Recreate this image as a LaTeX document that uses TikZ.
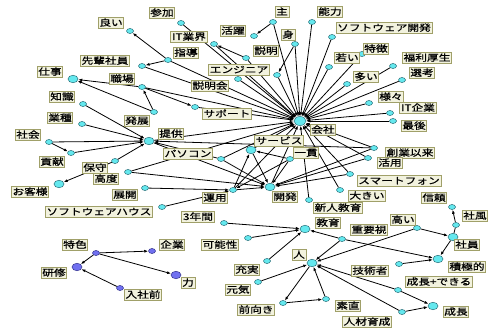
\documentclass[tikz,border=0pt]{standalone}
\usepackage{fontspec}
\newfontfamily\jp[FakeStretch=1.3,FakeBold=0.8]{Noto Sans CJK JP}
\usetikzlibrary{arrows.meta,shapes.geometric}
\pgfdeclarelayer{bg}
\pgfsetlayers{bg,main}
\definecolor{labfill}{RGB}{242,242,222}
\definecolor{labborder}{RGB}{160,160,105}
\definecolor{cyfill}{RGB}{100,232,238}
\definecolor{cyborder}{RGB}{40,110,120}
\definecolor{pufill}{RGB}{112,112,240}
\definecolor{puborder}{RGB}{50,50,140}
\begin{document}
\begin{tikzpicture}[x=1pt,y=-1pt,
  lab/.style={draw=labborder, fill=labfill, line width=0.9pt, inner xsep=1.2pt, inner ysep=0.5pt,
    text height=7.6pt, text depth=1.6pt, font=\jp\fontsize{9}{9}\selectfont},
  cn/.style={ellipse, draw=cyborder, fill=cyfill, line width=0.5pt, minimum width=7pt, minimum height=5pt, inner sep=0pt},
  cb/.style={cn, minimum width=10pt, minimum height=7.5pt},
  ck/.style={cn, minimum width=12pt, minimum height=9pt},
  pn/.style={cn, draw=puborder, fill=pufill},
  pb/.style={cb, draw=puborder, fill=pufill},
  e/.style={-{Latex[length=4pt,width=3pt]}, line width=0.8pt},
  ]
\useasboundingbox (0,0) rectangle (489,329);
% circles
\node[cn] (yoi) at (130,31) {};
\node[cn] (sanka) at (181,23) {};
\node[cn] (senpai) at (142,66) {};
\node[cb] (shigoto) at (73,79) {};
\node[cn] (shokuba) at (142,87) {};
\node[cn] (chishiki) at (83,104) {};
\node[cn] (itgyokai) at (214,44) {};
\node[cn] (shido) at (168,60) {};
\node[cn] (katsuyaku) at (254,36) {};
\node[cn] (omo) at (273,22) {};
\node[cn] (noryoku) at (312,22) {};
\node[cn] (mi) at (295,44) {};
\node[cn] (setsumei) at (246,58) {};
\node[cn] (engineer) at (277,75) {};
\node[cn] (setsumeikai) at (238,79) {};
\node[cn] (support) at (195,107) {};
\node[ck] (kaisha) at (300,121) {};
\node[cn] (softdev) at (332,37) {};
\node[cn] (tokucho) at (362,54) {};
\node[cn] (wakai) at (329,67) {};
\node[cn] (fukuri) at (393,66) {};
\node[cn] (ooi) at (347,84) {};
\node[cn] (senko) at (402,80) {};
\node[cn] (samazama) at (369,103) {};
\node[cn] (itkigyo) at (390,113) {};
\node[cn] (saigo) at (393,121) {};
\node[cn] (sogyo) at (374,148) {};
\node[cn] (katsuyo) at (368,158) {};
\node[cn] (smartphone) at (350,174) {};
\node[cn] (ookii) at (340,190) {};
\node[cn] (shinrai) at (452,207) {};
\node[cn] (shafu) at (456,225) {};
\node[cb] (shain) at (453,237) {};
\node[cn] (takai) at (417,228) {};
\node[cn] (juyoshi) at (342,239) {};
\node[cb] (sekkyoku) at (438,259) {};
\node[cn] (gijutsu) at (399,264) {};
\node[cn] (dekiru) at (398,290) {};
\node[cb] (seicho) at (433,306) {};
\node[cn] (jinzai) at (402,312) {};
\node[cn] (sunao) at (326,299) {};
\node[cb] (hito) at (312,263) {};
\node[cb] (kyoiku) at (305,229) {};
\node[cn] (shinjin) at (309,200) {};
\node[cb] (kaihatsu) at (270,187) {};
\node[cn] (ikkan) at (290,159) {};
\node[cb] (service) at (251,150) {};
\node[cn] (pasokon) at (221,159) {};
\node[cn] (unyo) at (233,190) {};
\node[cn] (sannen) at (224,223) {};
\node[cn] (kanosei) at (248,238) {};
\node[cn] (jujitsu) at (267,261) {};
\node[cn] (genki) at (258,282) {};
\node[cn] (maemuki) at (283,303) {};
\node[cn] (hatten) at (154,112) {};
\node[cn] (gyoshu) at (82,124) {};
\node[cn] (shakai) at (49,142) {};
\node[cn] (koken) at (71,153) {};
\node[cb] (teikyo) at (149,141) {};
\node[cn] (hoshu) at (115,161) {};
\node[cn] (kodo) at (128,172) {};
\node[cb] (okyaku) at (59,184) {};
\node[cn] (tenkai) at (145,188) {};
\node[cn] (softhouse) at (162,207) {};
\node[pn] (tokushoku) at (96,253) {};
\node[pb] (kenshu) at (77,267) {};
\node[pn] (nyusha) at (120,288) {};
\node[pn] (kigyo) at (152,251) {};
\node[pb] (chikara) at (176,275) {};
% edges
\begin{pgfonlayer}{bg}
\foreach \s in {omo,noryoku,mi,softdev,wakai,tokucho,ooi,fukuri,senko,samazama,itkigyo,saigo,
  sogyo,katsuyo,smartphone,ookii,shinjin,service,kaihatsu,pasokon,teikyo,support,
  setsumeikai,engineer,setsumei,itgyokai,sanka,shido,senpai,shokuba,kodo,unyo}
  \draw[e] (\s) -- (kaisha);
\draw[e] (shido) -- (yoi);
\draw[e] (shido) -- (senpai);
\draw[e] (omo) -- (katsuyaku);
\draw[e] (mi) -- (engineer);
\draw[e] (setsumei) -- (itgyokai);
\draw[e] (shokuba) -- (shigoto);
\draw[e] (hatten) -- (shigoto);
\draw[e] (hatten) -- (shokuba);
\draw[e] (shokuba) -- (support);
\foreach \s in {chishiki,gyoshu,shakai,koken,hoshu,pasokon,sogyo}
  \draw[e] (\s) -- (teikyo);
\draw[e] (shakai) -- (koken);
\draw[e] (hoshu) -- (okyaku);
\foreach \s in {teikyo,service,ikkan,pasokon,unyo,kodo,sogyo,katsuyo,smartphone}
  \draw[e] (\s) -- (kaihatsu);
\draw[e] (unyo) -- (service);
\draw[e] (ikkan) -- (service);
\draw[e] (ikkan) -- (unyo);
\draw[e] (tenkai) -- (unyo);
\draw[e] (softhouse) -- (unyo);
\draw[e] (sannen) -- (kyoiku);
\draw[e] (kanosei) -- (kyoiku);
\draw[e] (jujitsu) -- (kyoiku);
\draw[e] (juyoshi) -- (kyoiku);
\draw[e] (genki) -- (hito);
\draw[e] (sunao) -- (hito);
\draw[e] (juyoshi) -- (hito);
\draw[e] (takai) -- (hito);
\draw[e] (takai) -- (shain);
\draw[e] (shafu) -- (shinrai);
\draw[line width=0.8pt] (shafu) -- (shain);
\draw[e] (shain) -- (sekkyoku);
\draw[e] (juyoshi) -- (sekkyoku);
\draw[e] (gijutsu) -- (sekkyoku);
\draw[e] (dekiru) -- (hito);
\draw[e] (dekiru) -- (seicho);
\draw[e] (jinzai) -- (seicho);
\draw[e] (jinzai) -- (hito);
\draw[e] (hito) -- (maemuki);
\draw[e] (maemuki) -- (sunao);
\draw[e] (tokushoku) -- (kigyo);
\draw[e] (tokushoku) -- (kenshu);
\draw[e] (tokushoku) -- (chikara);
\draw[e] (nyusha) -- (kenshu);
\end{pgfonlayer}
% labels
\node[lab] (yoiL) at (111,23) {良い};
\node[lab] (sankaL) at (162,13) {参加};
\node[lab] (senpaiL) at (105,61) {先輩社員};
\node[lab] (shigotoL) at (50,72) {仕事};
\node[lab] (shokubaL) at (122,79) {職場};
\node[lab] (chishikiL) at (62,97) {知識};
\node[lab] (itgyokaiL) at (189,37) {IT業界};
\node[lab] (shidoL) at (186,53) {指導};
\node[lab] (katsuyakuL) at (233,31) {活躍};
\node[lab] (omoL) at (282,12) {主};
\node[lab] (noryokuL) at (330,12) {能力};
\node[lab] (miL) at (288,35) {身};
\node[lab] (setsumeiL) at (266,51) {説明};
\node[lab] (engineerL) at (239,70) {エンジニア};
\node[lab] (setsumeikaiL) at (210,86) {説明会};
\node[lab] (supportL) at (227,114) {サポート};
\node[lab] (kaishaL) at (323,130) {会社};
\node[lab] (softdevL) at (384,28) {ソフトウェア開発};
\node[lab] (tokuchoL) at (376,49) {特徴};
\node[lab] (wakaiL) at (347,58) {若い};
\node[lab] (fukuriL) at (427,58) {福利厚生};
\node[lab] (ooiL) at (366,77) {多い};
\node[lab] (senkoL) at (422,73) {選考};
\node[lab] (samazamaL) at (391,97) {様々};
\node[lab] (itkigyoL) at (418,108) {IT企業};
\node[lab] (saigoL) at (414,126) {最後};
\node[lab] (sogyoL) at (410,153) {創業以来};
\node[lab] (katsuyoL) at (390,163) {活用};
\node[lab] (smartphoneL) at (399,181) {スマートフォン};
\node[lab] (ookiiL) at (367,196) {大きい};
\node[lab] (shinraiL) at (434,198) {信頼};
\node[lab] (shafuL) at (475,216) {社風};
\node[lab] (shainL) at (467,245) {社員};
\node[lab] (takaiL) at (403,220) {高い};
\node[lab] (juyoshiL) at (369,230) {重要視};
\node[lab] (sekkyokuL) at (467,267) {積極的};
\node[lab] (gijutsuL) at (370,271) {技術者};
\node[lab] (dekiruL) at (439,282) {成長+できる};
\node[lab] (seichoL) at (456,312) {成長};
\node[lab] (jinzaiL) at (367,322) {人材育成};
\node[lab] (sunaoL) at (348,306) {素直};
\node[lab] (hitoL) at (299,255) {人};
\node[lab] (kyoikuL) at (328,223) {教育};
\node[lab] (shinjinL) at (338,208) {新人教育};
\node[lab] (kaihatsuL) at (285,197) {開発};
\node[lab] (ikkanL) at (306,153) {一貫};
\node[lab] (serviceL) at (279,141) {サービス};
\node[lab] (pasokonL) at (188,154) {パソコン};
\node[lab] (unyoL) at (215,198) {運用};
\node[lab] (sannenL) at (198,217) {3年間};
\node[lab] (kanoseiL) at (220,245) {可能性};
\node[lab] (jujitsuL) at (247,270) {充実};
\node[lab] (genkiL) at (238,290) {元気};
\node[lab] (maemukiL) at (256,310) {前向き};
\node[lab] (hattenL) at (137,121) {発展};
\node[lab] (gyoshuL) at (60,118) {業種};
\node[lab] (shakaiL) at (28,135) {社会};
\node[lab] (kokenL) at (52,162) {貢献};
\node[lab] (teikyoL) at (171,134) {提供};
\node[lab] (hoshuL) at (95,168) {保守};
\node[lab] (kodoL) at (106,179) {高度};
\node[lab] (okyakuL) at (30,192) {お客様};
\node[lab] (tenkaiL) at (125,195) {展開};
\node[lab] (softhouseL) at (99,212) {ソフトウェアハウス};
\node[lab] (tokushokuL) at (75,245) {特色};
\node[lab] (kenshuL) at (54,273) {研修};
\node[lab] (nyushaL) at (143,295) {入社前};
\node[lab] (kigyoL) at (172,245) {企業};
\node[lab] (chikaraL) at (188,283) {力};
\end{tikzpicture}
\end{document}
